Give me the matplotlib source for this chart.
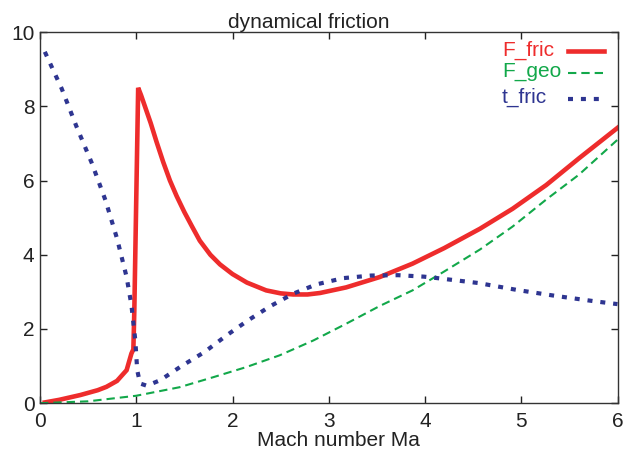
import matplotlib
matplotlib.use("Agg")
import matplotlib.pyplot as plt

# valores
ma_fric = [0.05, 0.2, 0.42, 0.6, 0.69, 0.8, 0.9, 0.95, 0.97, 0.98, 1.0, 1.02,
           1.05, 1.09, 1.15, 1.21, 1.28, 1.35, 1.42, 1.5, 1.58, 1.66, 1.77,
           1.87, 2.0, 2.15, 2.35, 2.5, 2.63, 2.78, 2.91, 3.18, 3.53, 3.87,
           4.2, 4.57, 4.91, 5.26, 5.6, 6.0]
f_fric = [0.02, 0.09, 0.22, 0.35, 0.44, 0.6, 0.89, 1.34, 1.45, 2.5, 5.5, 8.5,
          8.3, 8.0, 7.55, 7.05, 6.5, 6.0, 5.58, 5.15, 4.76, 4.38, 4.0,
          3.74, 3.48, 3.25, 3.04, 2.96, 2.93, 2.93, 2.97, 3.12, 3.40, 3.76,
          4.18, 4.70, 5.24, 5.88, 6.6, 7.42]

ma_geo = [0, 0.5, 1.0, 1.45, 1.8, 2.14, 2.49, 2.84, 3.18, 3.53, 3.87, 4.2,
          4.57, 4.91, 5.26, 5.6, 6.0]
f_geo = [0, 0.05, 0.2, 0.43, 0.70, 0.97, 1.29, 1.69, 2.14, 2.62, 3.04, 3.55,
         4.14, 4.76, 5.49, 6.16, 7.1]

ma_t = [0.05, 0.225, 0.38, 0.54, 0.68, 0.80, 0.90, 0.95, 0.99, 1.01, 1.04,
        1.11, 1.25, 1.47, 1.71, 1.94, 2.16, 2.39, 2.63, 2.87, 3.15, 3.44,
        3.72, 3.99, 4.13, 4.55, 4.96, 5.36, 5.78, 6.0]
t_fric = [9.47, 8.48, 7.45, 6.46, 5.47, 4.44, 3.40, 2.64, 1.70, 0.89, 0.53,
          0.47, 0.62, 1.0, 1.38, 1.83, 2.23, 2.61, 2.95, 3.20, 3.37, 3.44,
          3.45, 3.41, 3.37, 3.24, 3.05, 2.89, 2.74, 2.67]

xticks = [0, 1, 2, 3, 4, 5, 6]
yticks = [0, 2, 4, 6, 8, 10]

ROJO = '#ee2c2c'
VERDE = '#12a84a'
AZUL = '#2e3591'

plt.rcParams['font.family'] = ['Liberation Sans', 'DejaVu Sans']

fig = plt.figure(figsize=(6.25, 4.53), dpi=100)
ax = fig.add_axes([0.064, 0.110, 0.924, 0.819])

est_fric = dict(color=ROJO, lw=3.3, solid_joinstyle='miter')
est_geo = dict(color=VERDE, lw=1.5, linestyle=(0, (4.0, 2.4)))
est_t = dict(color=AZUL, lw=3.0, linestyle=(0, (1.2, 1.9)), dash_capstyle='butt')

ax.plot(ma_fric, f_fric, **est_fric)
ax.plot(ma_geo, f_geo, **est_geo)
ax.plot(ma_t, t_fric, **est_t)

ax.set_xlim(0, 6)
ax.set_ylim(0, 10)
ax.set_xticks(xticks)
ax.set_yticks(yticks)
ax.tick_params(direction='in', length=5, width=1, top=True, right=True,
               labelsize=15, colors='#222222')
ax.tick_params(axis='x', pad=6)
ax.tick_params(axis='y', pad=4)
for s in ax.spines.values():
    s.set_linewidth(1.0)
    s.set_color('#333333')

# gnuplot centra el titulo en el lienzo, no en el eje
ax.set_title('dynamical friction', fontsize=15, color='#222222', pad=3, x=0.465)
ax.set_xlabel('Mach number Ma', fontsize=15, color='#222222', labelpad=1)
ax.xaxis.set_label_coords(0.516, -0.075)

# leyenda al estilo gnuplot: texto a la izquierda, muestra a la derecha
etiquetas = ['F_fric', 'F_geo', 't_fric']
estilos = [est_fric, est_geo, est_t]
base_txt = [0.936, 0.880, 0.809]
fila_lin = [0.950, 0.890, 0.819]
for lab, est, yt, yl in zip(etiquetas, estilos, base_txt, fila_lin):
    ax.text(0.80, yt, lab, transform=ax.transAxes, fontsize=15,
            color=est['color'], va='baseline', ha='left')
    ax.plot([0.914, 0.977], [yl, yl], transform=ax.transAxes, **est)

fig.savefig('out.png', dpi=100)
